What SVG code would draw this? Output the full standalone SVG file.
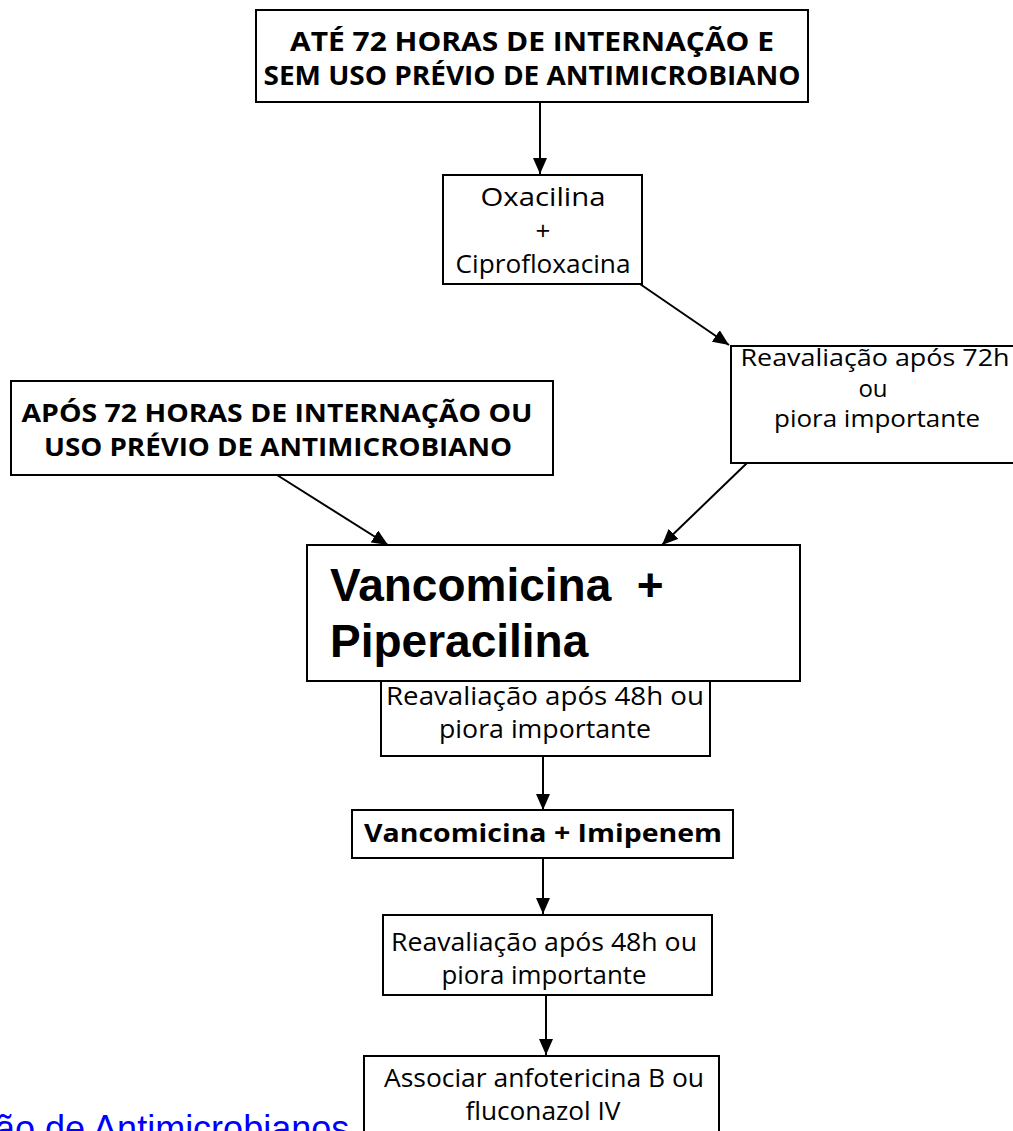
<svg xmlns="http://www.w3.org/2000/svg" width="1013" height="1131" viewBox="0 0 1013 1131">
<style>
.box{fill:#fff;stroke:#000;stroke-width:2}
.t{font-family:"Open Sans","Noto Sans",sans-serif;fill:#000;text-anchor:middle}
.b{font-weight:bold}
.r{font-size:26px}
.s{font-size:24px}
.big{font-family:"Liberation Sans",Arial,sans-serif;font-weight:bold;font-size:46px;fill:#000}
.link{font-family:"Liberation Sans",Arial,sans-serif;font-size:36px;fill:#0000ff}
.c{stroke:#000;stroke-width:2;fill:none;marker-end:url(#ah)}
</style>
<defs>
<marker id="ah" viewBox="0 0 16 14" refX="16" refY="7" markerWidth="16" markerHeight="14" markerUnits="userSpaceOnUse" orient="auto">
<path d="M0,0 L16,7 L0,14 z" fill="#000"/>
</marker>
</defs>
<rect width="1013" height="1131" fill="#fff"/>
<g id="connectors">
<line class="c" x1="540" y1="102" x2="540" y2="174"/>
<line class="c" x1="640" y1="284" x2="729" y2="345"/>
<line class="c" x1="277" y1="475" x2="388" y2="545"/>
<line class="c" x1="747" y1="463" x2="662" y2="545"/>
<line class="c" x1="543" y1="756" x2="543" y2="810"/>
<line class="c" x1="543" y1="858" x2="543" y2="914"/>
<line class="c" x1="546" y1="995" x2="546" y2="1055"/>
</g>
<g id="n1">
<rect class="box" x="256" y="10" width="552" height="92"/>
<text class="t b" font-size="27" x="532" y="51" textLength="484" lengthAdjust="spacingAndGlyphs">ATÉ 72 HORAS DE INTERNAÇÃO E</text>
<text class="t b" font-size="27" x="532" y="85" textLength="537" lengthAdjust="spacingAndGlyphs">SEM USO PRÉVIO DE ANTIMICROBIANO</text>
</g>
<g id="n2">
<rect class="box" x="443" y="175" width="199" height="109"/>
<text class="t r" x="543" y="206" textLength="125" lengthAdjust="spacingAndGlyphs">Oxacilina</text>
<text class="t r" x="543" y="240">+</text>
<text class="t r" x="543" y="273" textLength="175" lengthAdjust="spacingAndGlyphs">Ciprofloxacina</text>
</g>
<g id="n3">
<rect class="box" x="731" y="346" width="290" height="117"/>
<text class="t s" x="875" y="366" textLength="269" lengthAdjust="spacingAndGlyphs">Reavaliação após 72h</text>
<text class="t s" x="873" y="397">ou</text>
<text class="t s" x="877" y="427" textLength="206" lengthAdjust="spacingAndGlyphs">piora importante</text>
</g>
<g id="n4">
<rect class="box" x="11" y="381" width="542" height="94"/>
<text class="t b" font-size="25" x="277" y="422" textLength="511" lengthAdjust="spacingAndGlyphs">APÓS 72 HORAS DE INTERNAÇÃO OU</text>
<text class="t b" font-size="25" x="278" y="456" textLength="468" lengthAdjust="spacingAndGlyphs">USO PRÉVIO DE ANTIMICROBIANO</text>
</g>
<g id="n6">
<rect class="box" x="381" y="670" width="329" height="86"/>
<text class="t r" x="545" y="705" textLength="318" lengthAdjust="spacingAndGlyphs">Reavaliação após 48h ou</text>
<text class="t r" x="545" y="738" textLength="212" lengthAdjust="spacingAndGlyphs">piora importante</text>
</g>
<g id="n5">
<rect class="box" x="307" y="545" width="493" height="136"/>
<text class="big" x="330" y="601" xml:space="preserve">Vancomicina  +</text>
<text class="big" x="330" y="657">Piperacilina</text>
</g>
<g id="n7">
<rect class="box" x="352" y="810" width="381" height="48"/>
<text class="t b" font-size="25" x="543" y="842" textLength="358" lengthAdjust="spacingAndGlyphs">Vancomicina + Imipenem</text>
</g>
<g id="n8">
<rect class="box" x="383" y="915" width="329" height="80"/>
<text class="t r" x="544" y="951" textLength="306" lengthAdjust="spacingAndGlyphs">Reavaliação após 48h ou</text>
<text class="t r" x="544" y="984" textLength="205" lengthAdjust="spacingAndGlyphs">piora importante</text>
</g>
<g id="n9">
<rect class="box" x="364" y="1056" width="355" height="90"/>
<text class="t r" x="544" y="1087" textLength="320" lengthAdjust="spacingAndGlyphs">Associar anfotericina B ou</text>
<text class="t r" x="543" y="1120" textLength="155" lengthAdjust="spacingAndGlyphs">fluconazol IV</text>
</g>
<text class="link" x="-5" y="1141">ão de Antimicrobianos</text>
</svg>
